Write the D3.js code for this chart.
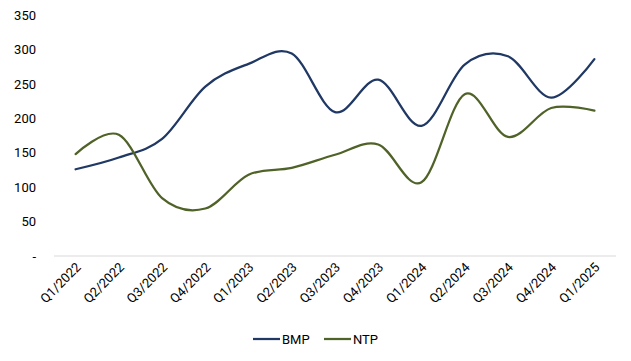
<!DOCTYPE html>
<html><head><meta charset="utf-8">
<script src="https://cdn.jsdelivr.net/npm/d3@7"></script>
<style>body{margin:0;background:#fff;} text{font-family:Roboto, Arial, sans-serif;}</style>
</head><body><svg id="c" width="631" height="361"></svg>
<script>
const categories = ["Q1/2022","Q2/2022","Q3/2022","Q4/2022","Q1/2023","Q2/2023","Q3/2023","Q4/2023","Q1/2024","Q2/2024","Q3/2024","Q4/2024","Q1/2025"];
const bmp = [126,143,170,246,279,294,209,256,189,278,290,230,286];
const ntp = [148,176,84,69,118,128,147,162,107,235,173,215,211];
const yTicks = [0,50,100,150,200,250,300,350];
const seriesNames = ["BMP","NTP"];
const colors = ["#203864","#4F6228"];

(function(){
const svg = d3.select("#c");
const mLeft = 54, mRight = 616, mTop = 15, mBottom = 256;
const x = d3.scaleBand().domain(categories).range([mLeft, mRight]);
const y = d3.scaleLinear().domain([0,350]).range([mBottom, mTop]);

svg.append("line").attr("x1",mLeft).attr("x2",mRight).attr("y1",y(0)).attr("y2",y(0))
  .attr("stroke","#d9d9d9").attr("stroke-width",1);

const ya = svg.append("g").attr("transform",`translate(${mLeft},0)`)
  .call(d3.axisLeft(y).tickValues(yTicks).tickSize(0).tickPadding(18)
    .tickFormat(d => d===0 ? "-" : d));
ya.select(".domain").remove();
ya.selectAll("text").attr("font-size",13).attr("fill","#000").style("font-family","Roboto, Arial, sans-serif");

const xa = svg.append("g").attr("transform",`translate(0,${mBottom})`)
  .call(d3.axisBottom(x).tickSize(0).tickPadding(0));
xa.select(".domain").remove();
xa.selectAll("text").attr("font-size",13).attr("fill","#000")
  .style("font-family","Roboto, Arial, sans-serif")
  .attr("text-anchor","end").attr("dy",0).attr("y",0)
  .attr("transform","translate(6,12) rotate(-45)");

const line = d3.line().x((d,i)=>x(categories[i])+x.bandwidth()/2).y(d=>y(d))
  .curve(d3.curveCardinal.tension(0));
[bmp,ntp].forEach((s,i)=>{
  svg.append("path").attr("d",line(s)).attr("fill","none")
    .attr("stroke",colors[i]).attr("stroke-width",2.25).attr("stroke-linecap","round");
});

const lx = [253, 324];
seriesNames.forEach((n,i)=>{
  svg.append("line").attr("x1",lx[i]).attr("x2",lx[i]+27).attr("y1",339).attr("y2",339)
    .attr("stroke",colors[i]).attr("stroke-width",2.25);
  svg.append("text").attr("x",lx[i]+29).attr("y",344).attr("font-size",13).attr("fill","#000").text(n);
});
})();
</script></body></html>
